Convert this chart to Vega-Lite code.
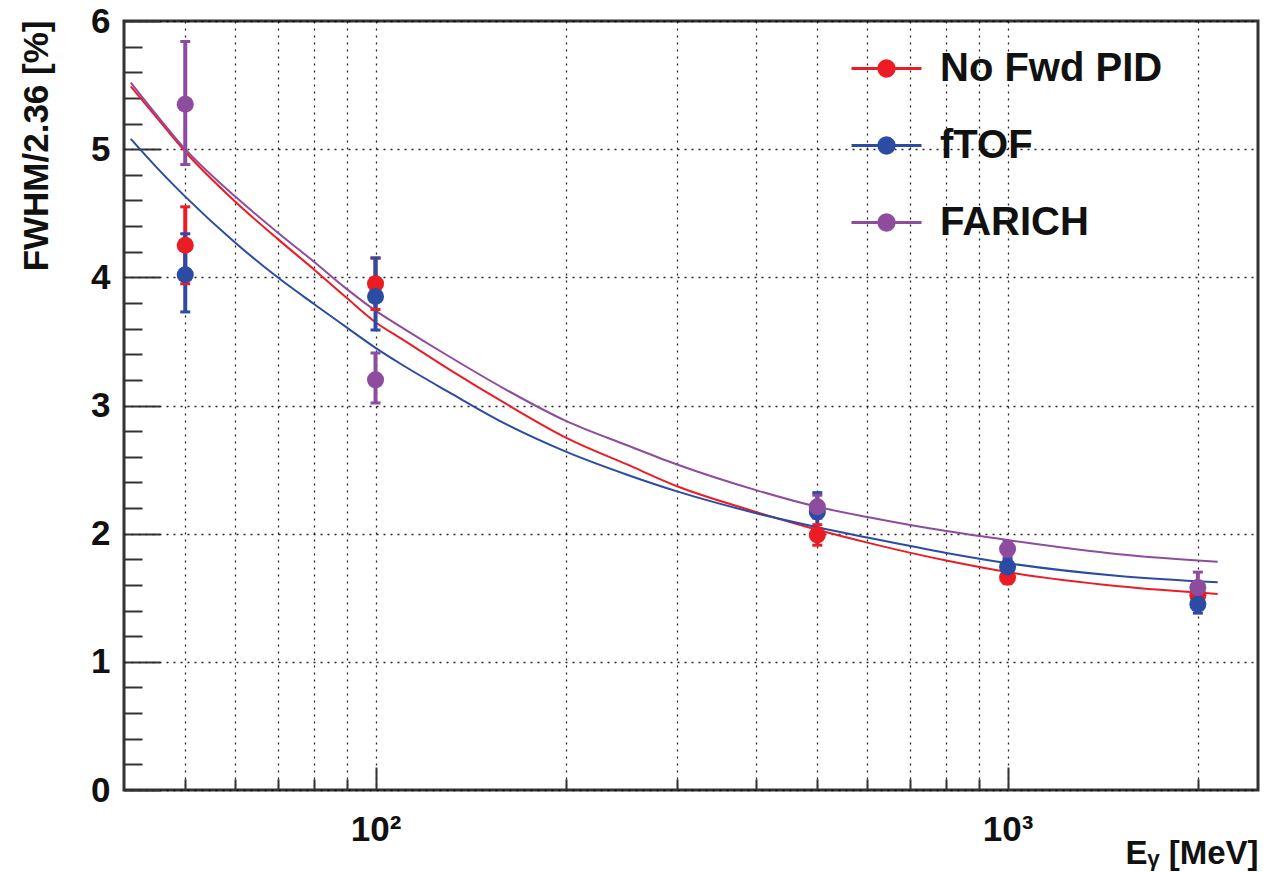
{
  "$schema": "https://vega.github.io/schema/vega-lite/v6.json",
  "width": 1134,
  "height": 769,
  "autosize": {"type": "none"},
  "padding": {"left": 124, "top": 21, "right": 6, "bottom": 82},
  "background": "white",
  "config": {
    "view": {"stroke": "#333", "strokeWidth": 3},
    "font": "Liberation Sans",
    "axis": {
      "labelFont": "Liberation Sans", "labelFontWeight": "bold", "labelColor": "#111",
      "titleFont": "Liberation Sans", "titleFontWeight": "bold", "titleColor": "#111",
      "domain": false, "tickColor": "#333", "tickWidth": 2,
      "gridColor": "#000", "gridDash": [2, 5], "gridWidth": 1.3, "gridOpacity": 0.85
    }
  },
  "datasets": {
    "curves": [
      {"E": 41, "v": 5.49, "s": "No Fwd PID"}, {"E": 45, "v": 5.25, "s": "No Fwd PID"}, {"E": 50, "v": 4.98, "s": "No Fwd PID"},
      {"E": 60, "v": 4.59, "s": "No Fwd PID"}, {"E": 70, "v": 4.30, "s": "No Fwd PID"}, {"E": 80, "v": 4.06, "s": "No Fwd PID"},
      {"E": 90, "v": 3.84, "s": "No Fwd PID"}, {"E": 100, "v": 3.65, "s": "No Fwd PID"}, {"E": 110, "v": 3.52, "s": "No Fwd PID"},
      {"E": 130, "v": 3.29, "s": "No Fwd PID"}, {"E": 160, "v": 3.02, "s": "No Fwd PID"}, {"E": 200, "v": 2.75, "s": "No Fwd PID"},
      {"E": 250, "v": 2.54, "s": "No Fwd PID"}, {"E": 300, "v": 2.37, "s": "No Fwd PID"}, {"E": 400, "v": 2.17, "s": "No Fwd PID"},
      {"E": 500, "v": 2.03, "s": "No Fwd PID"}, {"E": 600, "v": 1.93, "s": "No Fwd PID"}, {"E": 800, "v": 1.79, "s": "No Fwd PID"},
      {"E": 1000, "v": 1.70, "s": "No Fwd PID"}, {"E": 1500, "v": 1.59, "s": "No Fwd PID"}, {"E": 2150, "v": 1.53, "s": "No Fwd PID"},
      {"E": 41, "v": 5.08, "s": "fTOF"}, {"E": 45, "v": 4.86, "s": "fTOF"}, {"E": 50, "v": 4.63, "s": "fTOF"},
      {"E": 60, "v": 4.27, "s": "fTOF"}, {"E": 70, "v": 4.00, "s": "fTOF"}, {"E": 80, "v": 3.79, "s": "fTOF"},
      {"E": 90, "v": 3.61, "s": "fTOF"}, {"E": 100, "v": 3.45, "s": "fTOF"}, {"E": 110, "v": 3.32, "s": "fTOF"},
      {"E": 130, "v": 3.11, "s": "fTOF"}, {"E": 160, "v": 2.86, "s": "fTOF"}, {"E": 200, "v": 2.64, "s": "fTOF"},
      {"E": 250, "v": 2.46, "s": "fTOF"}, {"E": 300, "v": 2.33, "s": "fTOF"}, {"E": 400, "v": 2.16, "s": "fTOF"},
      {"E": 500, "v": 2.05, "s": "fTOF"}, {"E": 600, "v": 1.97, "s": "fTOF"}, {"E": 800, "v": 1.85, "s": "fTOF"},
      {"E": 1000, "v": 1.77, "s": "fTOF"}, {"E": 1500, "v": 1.67, "s": "fTOF"}, {"E": 2150, "v": 1.62, "s": "fTOF"},
      {"E": 41, "v": 5.52, "s": "FARICH"}, {"E": 45, "v": 5.27, "s": "FARICH"}, {"E": 50, "v": 5.00, "s": "FARICH"},
      {"E": 60, "v": 4.63, "s": "FARICH"}, {"E": 70, "v": 4.35, "s": "FARICH"}, {"E": 80, "v": 4.12, "s": "FARICH"},
      {"E": 90, "v": 3.91, "s": "FARICH"}, {"E": 100, "v": 3.74, "s": "FARICH"}, {"E": 110, "v": 3.61, "s": "FARICH"},
      {"E": 130, "v": 3.39, "s": "FARICH"}, {"E": 160, "v": 3.13, "s": "FARICH"}, {"E": 200, "v": 2.88, "s": "FARICH"},
      {"E": 250, "v": 2.69, "s": "FARICH"}, {"E": 300, "v": 2.54, "s": "FARICH"}, {"E": 400, "v": 2.34, "s": "FARICH"},
      {"E": 500, "v": 2.21, "s": "FARICH"}, {"E": 600, "v": 2.13, "s": "FARICH"}, {"E": 800, "v": 2.02, "s": "FARICH"},
      {"E": 1000, "v": 1.95, "s": "FARICH"}, {"E": 1500, "v": 1.84, "s": "FARICH"}, {"E": 2150, "v": 1.78, "s": "FARICH"}
    ],
    "pts": [
      {"E": 50, "v": 4.25, "lo": 3.95, "hi": 4.55, "s": "No Fwd PID"},
      {"E": 100, "v": 3.95, "lo": 3.75, "hi": 4.15, "s": "No Fwd PID"},
      {"E": 500, "v": 1.99, "lo": 1.91, "hi": 2.07, "s": "No Fwd PID"},
      {"E": 1000, "v": 1.66, "lo": 1.61, "hi": 1.72, "s": "No Fwd PID"},
      {"E": 2000, "v": 1.52, "lo": 1.46, "hi": 1.58, "s": "No Fwd PID"},
      {"E": 50, "v": 4.02, "lo": 3.73, "hi": 4.34, "s": "fTOF"},
      {"E": 100, "v": 3.85, "lo": 3.59, "hi": 4.15, "s": "fTOF"},
      {"E": 500, "v": 2.17, "lo": 2.04, "hi": 2.32, "s": "fTOF"},
      {"E": 1000, "v": 1.74, "lo": 1.68, "hi": 1.80, "s": "fTOF"},
      {"E": 2000, "v": 1.45, "lo": 1.38, "hi": 1.52, "s": "fTOF"},
      {"E": 50, "v": 5.35, "lo": 4.88, "hi": 5.84, "s": "FARICH"},
      {"E": 100, "v": 3.20, "lo": 3.02, "hi": 3.41, "s": "FARICH"},
      {"E": 500, "v": 2.21, "lo": 2.12, "hi": 2.30, "s": "FARICH"},
      {"E": 1000, "v": 1.88, "lo": 1.82, "hi": 1.94, "s": "FARICH"},
      {"E": 2000, "v": 1.58, "lo": 1.49, "hi": 1.70, "s": "FARICH"}
    ]
  },
  "layer": [
    {
      "data": {"name": "curves"},
      "mark": {"type": "line", "strokeWidth": 2, "interpolate": "monotone"},
      "encoding": {
        "x": {
          "field": "E", "type": "quantitative",
          "scale": {"type": "log", "domain": [40, 2490], "nice": false},
          "axis": {
            "orient": "bottom", "values": [100, 1000], "tickSize": -23,
            "labelExpr": "datum.value == 100 ? '10²' : '10³'",
            "labelFontSize": 35, "labelPadding": 45, "grid": true,
            "title": "Eᵧ [MeV]", "titleFontSize": 33, "titleAnchor": "end", "titleAlign": "right",
            "titleX": 1134, "titleY": 80, "titleBaseline": "bottom"
          }
        },
        "y": {
          "field": "v", "type": "quantitative",
          "scale": {"domain": [0, 6], "nice": false, "zero": false},
          "axis": {
            "orient": "left", "values": [0, 1, 2, 3, 4, 5, 6], "tickSize": -36,
            "labelFontSize": 35, "labelPadding": 50, "grid": true,
            "title": "FWHM/2.36 [%]", "titleFontSize": 35, "titleAnchor": "end", "titleAlign": "right",
            "titleAngle": -90, "titleX": -88, "titleY": -1, "titleBaseline": "middle"
          }
        },
        "color": {
          "field": "s", "type": "nominal",
          "scale": {"domain": ["No Fwd PID", "fTOF", "FARICH"], "range": ["#ec1c24", "#2b4ca2", "#8e4c9f"]},
          "legend": {
            "orient": "none", "legendX": 726, "legendY": 11, "title": null,
            "symbolType": "M-1,0H1M-0.22,0A0.22,0.22,0,1,1,0.22,0A0.22,0.22,0,1,1,-0.22,0Z",
            "symbolSize": 4900, "symbolStrokeWidth": 3,
            "labelFontSize": 40, "labelFont": "Liberation Sans", "labelFontWeight": "bold", "labelColor": "#111",
            "labelOffset": 17, "rowPadding": 20, "padding": 0, "labelLimit": 500,
            "encode": {"symbols": {"update": {"fill": {"scale": "color", "field": "value"}, "stroke": {"scale": "color", "field": "value"}, "opacity": {"value": 1}}}}
          }
        }
      }
    },
    {
      "data": {"name": "pts"},
      "mark": {"type": "rule", "strokeWidth": 4},
      "encoding": {
        "x": {
          "field": "E", "type": "quantitative",
          "scale": {"type": "log", "domain": [40, 2490], "nice": false},
          "axis": {
            "orient": "bottom", "values": [50, 60, 70, 80, 90, 200, 300, 400, 500, 600, 700, 800, 900, 2000],
            "tickSize": -11, "labels": false, "grid": true, "title": null
          }
        },
        "y": {
          "field": "lo", "type": "quantitative",
          "scale": {"domain": [0, 6], "nice": false, "zero": false},
          "axis": {
            "orient": "left",
            "values": [0.2, 0.4, 0.6, 0.8, 1.2, 1.4, 1.6, 1.8, 2.2, 2.4, 2.6, 2.8, 3.2, 3.4, 3.6, 3.8, 4.2, 4.4, 4.6, 4.8, 5.2, 5.4, 5.6, 5.8],
            "tickSize": -18, "labels": false, "grid": false, "title": null
          }
        },
        "y2": {"field": "hi"},
        "color": {"field": "s", "type": "nominal"}
      }
    },
    {
      "data": {"name": "pts"},
      "mark": {"type": "tick", "orient": "horizontal", "size": 10, "thickness": 3, "opacity": 1},
      "encoding": {
        "x": {"field": "E", "type": "quantitative", "scale": {"type": "log", "domain": [40, 2490], "nice": false}, "axis": null},
        "y": {"field": "lo", "type": "quantitative", "scale": {"domain": [0, 6], "nice": false, "zero": false}, "axis": null},
        "color": {"field": "s", "type": "nominal"}
      }
    },
    {
      "data": {"name": "pts"},
      "mark": {"type": "tick", "orient": "horizontal", "size": 10, "thickness": 3, "opacity": 1},
      "encoding": {
        "x": {"field": "E", "type": "quantitative", "scale": {"type": "log", "domain": [40, 2490], "nice": false}, "axis": null},
        "y": {"field": "hi", "type": "quantitative", "scale": {"domain": [0, 6], "nice": false, "zero": false}, "axis": null},
        "color": {"field": "s", "type": "nominal"}
      }
    },
    {
      "data": {"name": "pts"},
      "mark": {"type": "circle", "size": 290, "opacity": 1},
      "encoding": {
        "x": {"field": "E", "type": "quantitative", "scale": {"type": "log", "domain": [40, 2490], "nice": false}, "axis": null},
        "y": {"field": "v", "type": "quantitative", "scale": {"domain": [0, 6], "nice": false, "zero": false}, "axis": null},
        "color": {"field": "s", "type": "nominal"}
      }
    }
  ],
  "resolve": {"axis": {"x": "independent", "y": "independent"}}
}
